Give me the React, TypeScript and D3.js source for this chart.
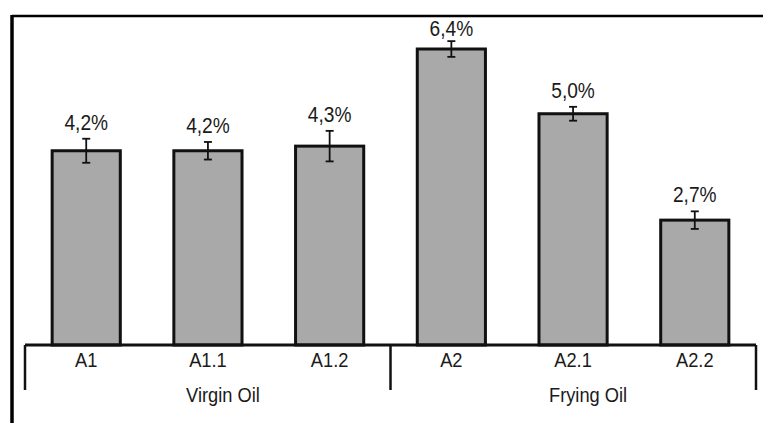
import React from "react";
import * as d3 from "d3";

// Sample codes and their oil groups
const categories = ["A1", "A1.1", "A1.2", "A2", "A2.1", "A2.2"];
const groups = ["Virgin Oil", "Frying Oil"];
const groupOf = ["Virgin Oil", "Virgin Oil", "Virgin Oil", "Frying Oil", "Frying Oil", "Frying Oil"];
// Mean percentage and standard deviation per sample
const values = [4.2, 4.2, 4.3, 6.4, 5.0, 2.7];
const errors = [0.26, 0.19, 0.33, 0.17, 0.15, 0.19];
const valueLabels = ["4,2%", "4,2%", "4,3%", "6,4%", "5,0%", "2,7%"];

const W = 763;
const H = 423;
const FONT = "Liberation Sans, Arial, sans-serif";
const NARROW = 0.87;

function NarrowText(props: { x: number; y: number; size: number; children: React.ReactNode }) {
  return (
    <text
      transform={`translate(${props.x},${props.y}) scale(${NARROW},1)`}
      textAnchor="middle"
      fontSize={props.size}
      fontFamily={FONT}
      fill="#1a1a1a"
    >
      {props.children}
    </text>
  );
}

export default function App() {
  const baseY = 345;
  const x = d3
    .scaleBand<string>()
    .domain(categories)
    .range([25, 756])
    .paddingInner(0.44)
    .paddingOuter(0.223);
  const y = d3.scaleLinear().domain([0, 7]).range([baseY, baseY - 7 * 46.25]);
  const bw = x.bandwidth();
  const step = x.step();

  // Group separators: outer edges and the gap between the two groups
  const mid = (x("A2") as number) - (step * x.paddingInner()) / 2;
  const edges = [x.range()[0], mid, x.range()[1]];
  const groupCenters = groups.map((g) => {
    const idx = categories.map((_, i) => i).filter((i) => groupOf[i] === g);
    const c = idx.map((i) => (x(categories[i]) as number) + bw / 2);
    return d3.mean(c) as number;
  });

  return (
    <svg
      width={W}
      height={H}
      style={{ position: "absolute", left: 0, top: 0, background: "#fff" }}
    >
      {/* frame */}
      <line x1={12} y1={16} x2={W} y2={16} stroke="#000" strokeWidth={2.5} />
      <line x1={12} y1={15} x2={12} y2={H} stroke="#000" strokeWidth={3.5} />

      {categories.map((c, i) => {
        const x0 = x(c) as number;
        const cx = x0 + bw / 2;
        const top = y(values[i]);
        const eHi = y(values[i] + errors[i]);
        const eLo = y(values[i] - errors[i]);
        return (
          <g key={c}>
            <rect
              x={x0}
              y={top}
              width={bw}
              height={baseY - top}
              fill="#a9a9a9"
              stroke="#111"
              strokeWidth={3}
            />
            <line x1={cx} x2={cx} y1={eHi} y2={eLo} stroke="#111" strokeWidth={1.8} />
            <line x1={cx - 4} x2={cx + 4} y1={eHi} y2={eHi} stroke="#111" strokeWidth={1.8} />
            <line x1={cx - 4} x2={cx + 4} y1={eLo} y2={eLo} stroke="#111" strokeWidth={1.8} />
            <NarrowText x={cx} y={Math.max(eHi - 9, 36)} size={22}>
              {valueLabels[i]}
            </NarrowText>
            <NarrowText x={cx} y={367} size={21}>
              {c}
            </NarrowText>
          </g>
        );
      })}

      {/* category axis */}
      <line x1={edges[0]} x2={edges[2]} y1={baseY} y2={baseY} stroke="#111" strokeWidth={3} />
      {edges.map((e, i) => (
        <line key={i} x1={e} x2={e} y1={baseY} y2={390} stroke="#111" strokeWidth={2.5} />
      ))}
      {groups.map((g, i) => (
        <NarrowText key={g} x={groupCenters[i] + 15} y={401.5} size={21}>
          {g}
        </NarrowText>
      ))}
    </svg>
  );
}
